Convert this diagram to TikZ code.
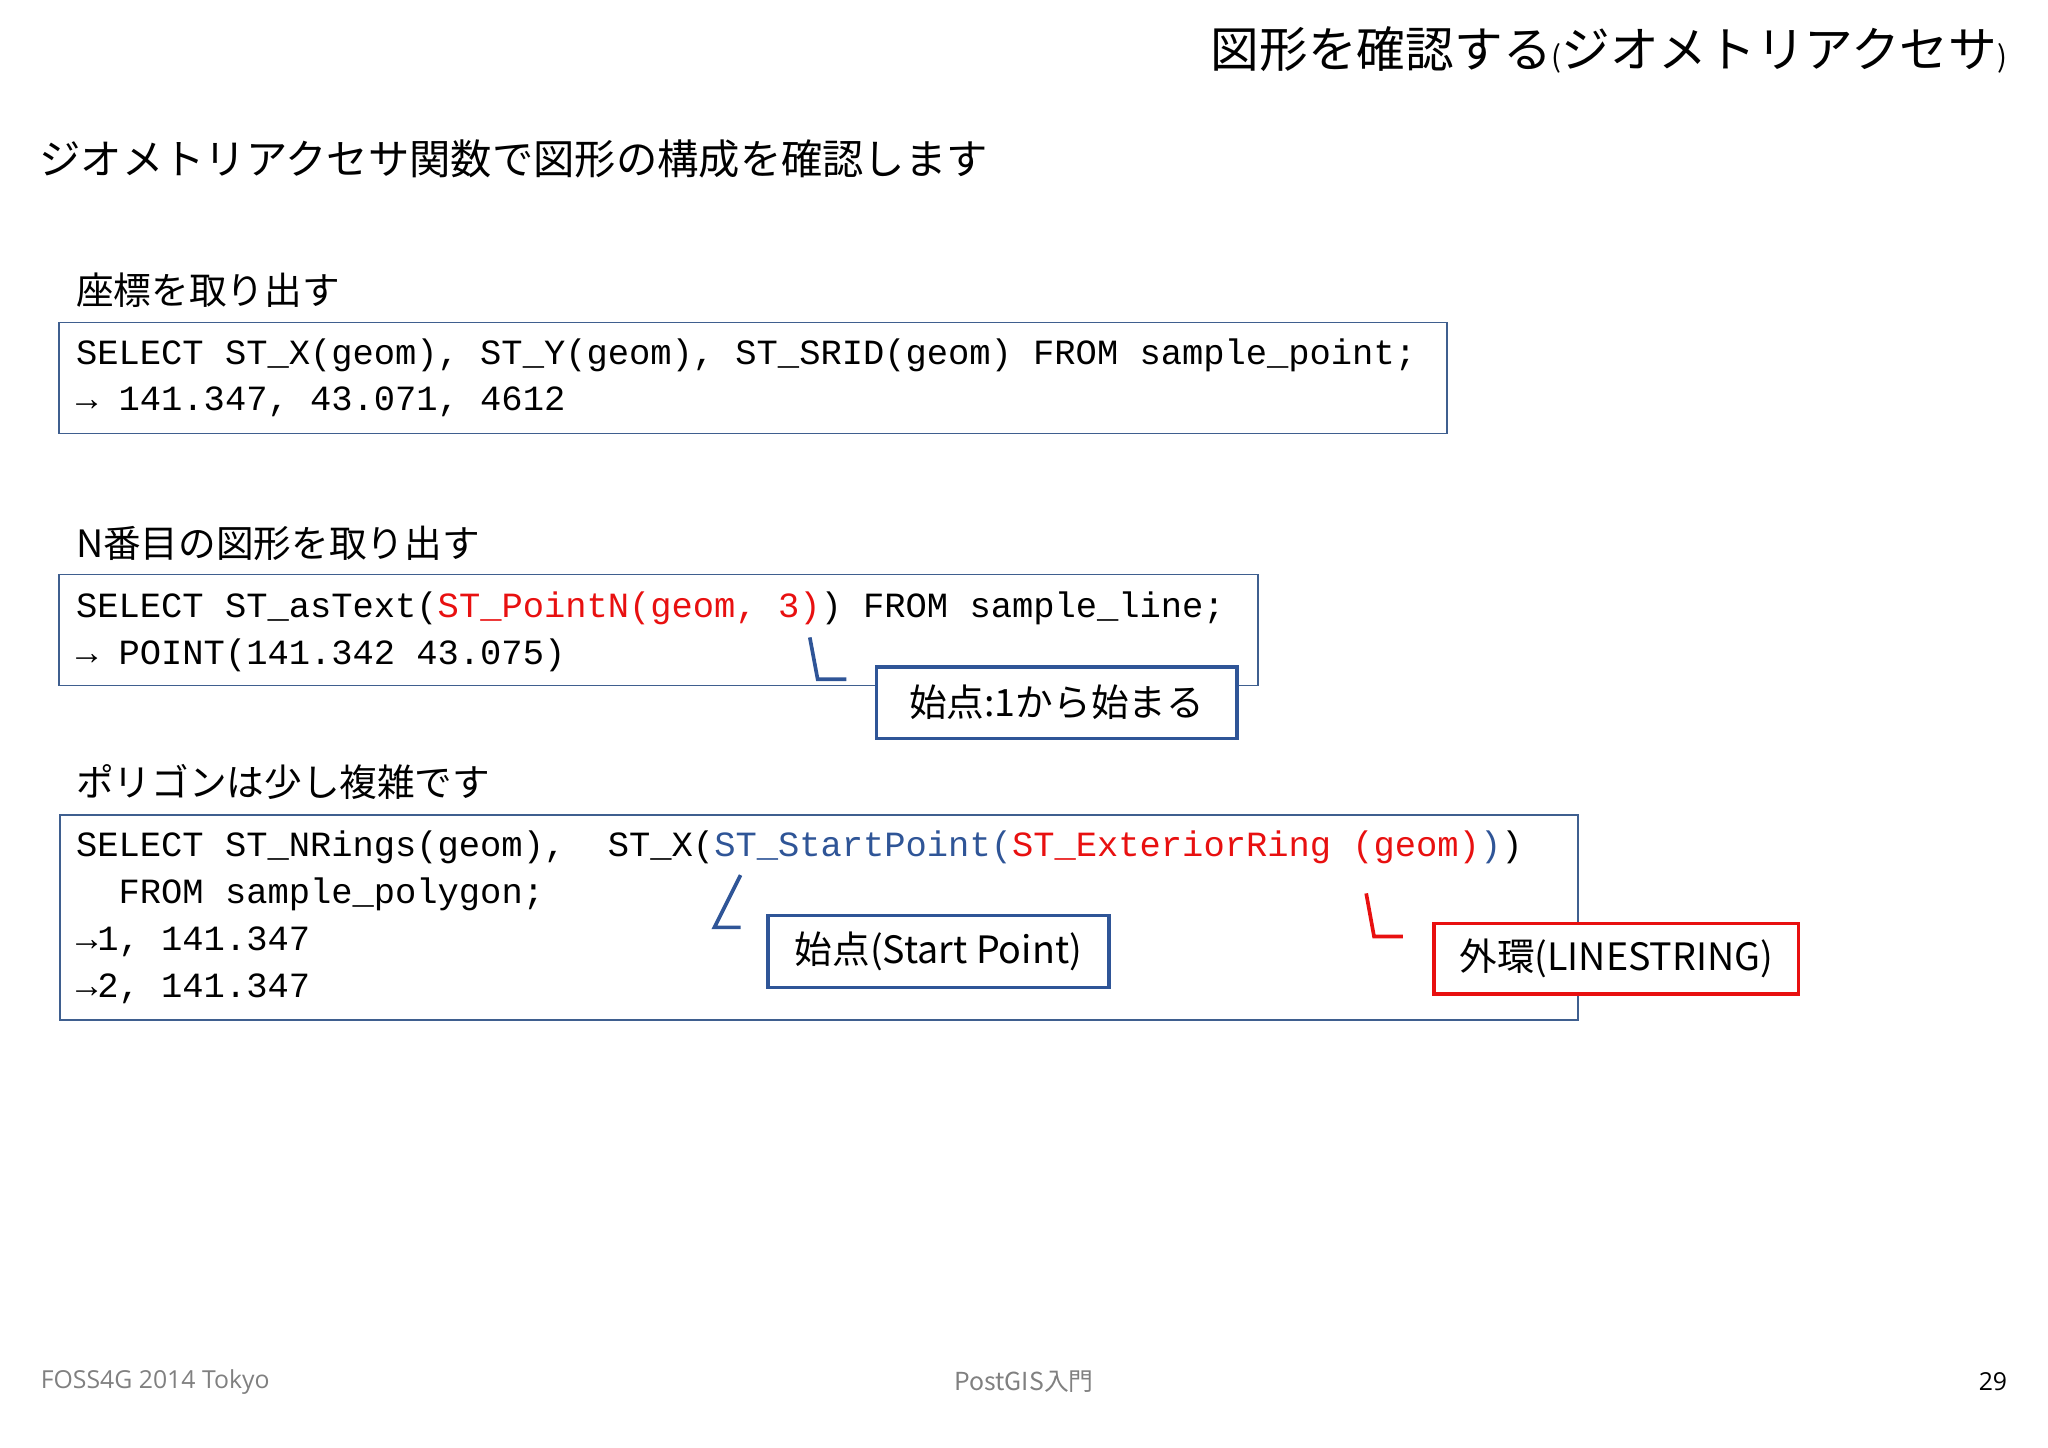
\documentclass[tikz,border=0pt]{standalone}
\usepackage{fontspec}
\setmainfont{Noto Sans CJK JP}
\newfontfamily\codef{Liberation Mono}
\newfontfamily\jpf{Noto Sans CJK JP}
\definecolor{bx}{HTML}{3F5F8F}
\definecolor{cb}{HTML}{2F5597}
\definecolor{rd}{HTML}{E81010}
\definecolor{bl}{HTML}{2F5597}
\begin{document}
\begin{tikzpicture}[x=0.025cm,y=-0.025cm,
  box/.style={draw=bx,line width=0.8pt},
  code/.style={anchor=west,inner sep=0,font=\codef\fontsize{19.3}{21}\selectfont},
  sec/.style={anchor=west,inner sep=0,font=\jpf\fontsize{20.5}{22}\selectfont},
  callb/.style={draw=cb,line width=2pt,fill=white,inner sep=0,font=\jpf\fontsize{20.5}{22}\selectfont},
  callr/.style={draw=rd,line width=2pt,fill=white,inner sep=0,font=\jpf\fontsize{20.5}{22}\selectfont},
  lb/.style={draw=cb,line width=2pt},
  lr/.style={draw=rd,line width=2pt}]
\useasboundingbox (0,0) rectangle (1568,1108);
\node[anchor=east,inner sep=0,font=\jpf\fontsize{26.5}{28}\selectfont] (title) at (1537,38) {図形を確認する{\fontsize{16}{18}\selectfont(}ジオメトリアクセサ{\fontsize{16}{18}\selectfont)}};
\node[anchor=west,inner sep=0,font=\jpf\fontsize{22.5}{26}\selectfont] (sub) at (30,122) {ジオメトリアクセサ関数で図形の構成を確認します};
\node[sec] (s1) at (58,222) {座標を取り出す};
\node[sec] (s2) at (58,416) {N番目の図形を取り出す};
\node[sec] (s3) at (58,599) {ポリゴンは少し複雑です};
\draw[box] (45,247) rectangle (1108,332);
\draw[box] (45,440) rectangle (963,525);
\draw[box] (46,624) rectangle (1208,781);
\node[code] (c1) at (58,272) {SELECT ST\_X(geom), ST\_Y(geom), ST\_SRID(geom) FROM sample\_point;};
\node[code] (c2) at (58,308) {→ 141.347, 43.071, 4612};
\node[code] (c3) at (58,466) {SELECT ST\_asText({\color{rd}ST\_PointN(geom, 3)}) FROM sample\_line;};
\node[code] (c4) at (58,502) {→ POINT(141.342 43.075)};
\node[code] (c5) at (58,649) {SELECT ST\_NRings(geom),\ \ ST\_X({\color{bl}ST\_StartPoint(}{\color{rd}ST\_ExteriorRing (geom)}{\color{bl})})};
\node[code] (c6) at (58,685) {\ \ FROM sample\_polygon;};
\node[code] (c7) at (58,721) {→1, 141.347};
\node[code] (c8) at (58,757) {→2, 141.347};
\node[callb,minimum width=276*0.025cm,minimum height=55*0.025cm] (k1) at (809,538) {始点:1から始まる};
\node[callb,minimum width=261*0.025cm,minimum height=55*0.025cm] (k2) at (718.5,728.5) {始点(Start Point)};
\node[callr,minimum width=279*0.025cm,minimum height=54*0.025cm] (k3) at (1237.5,734) {外環(LINESTRING)};
\coordinate (p1) at (620,488); \coordinate (q1) at (626,520); \coordinate (e1) at (648,520);
\draw[lb] (p1) -- (q1) -- (e1);
\coordinate (p2) at (567,670); \coordinate (q2) at (547,710); \coordinate (e2) at (567,710);
\draw[lb] (p2) -- (q2) -- (e2);
\coordinate (p3) at (1046,684); \coordinate (q3) at (1052,717); \coordinate (e3) at (1074,717);
\draw[lr] (p3) -- (q3) -- (e3);
\node[anchor=west,inner sep=0,text=gray,font=\fontspec{Open Sans}\fontsize{13.5}{15}\selectfont] (f1) at (31,1058) {FOSS4G 2014 Tokyo};
\node[inner sep=0,text=gray,font=\jpf\fontsize{13.5}{15}\selectfont] (f2) at (784,1058) {PostGIS入門};
\node[anchor=east,inner sep=0,font=\fontspec{Open Sans}\fontsize{13.5}{15}\selectfont] (f3) at (1537,1058) {29};
\end{tikzpicture}
\end{document}
